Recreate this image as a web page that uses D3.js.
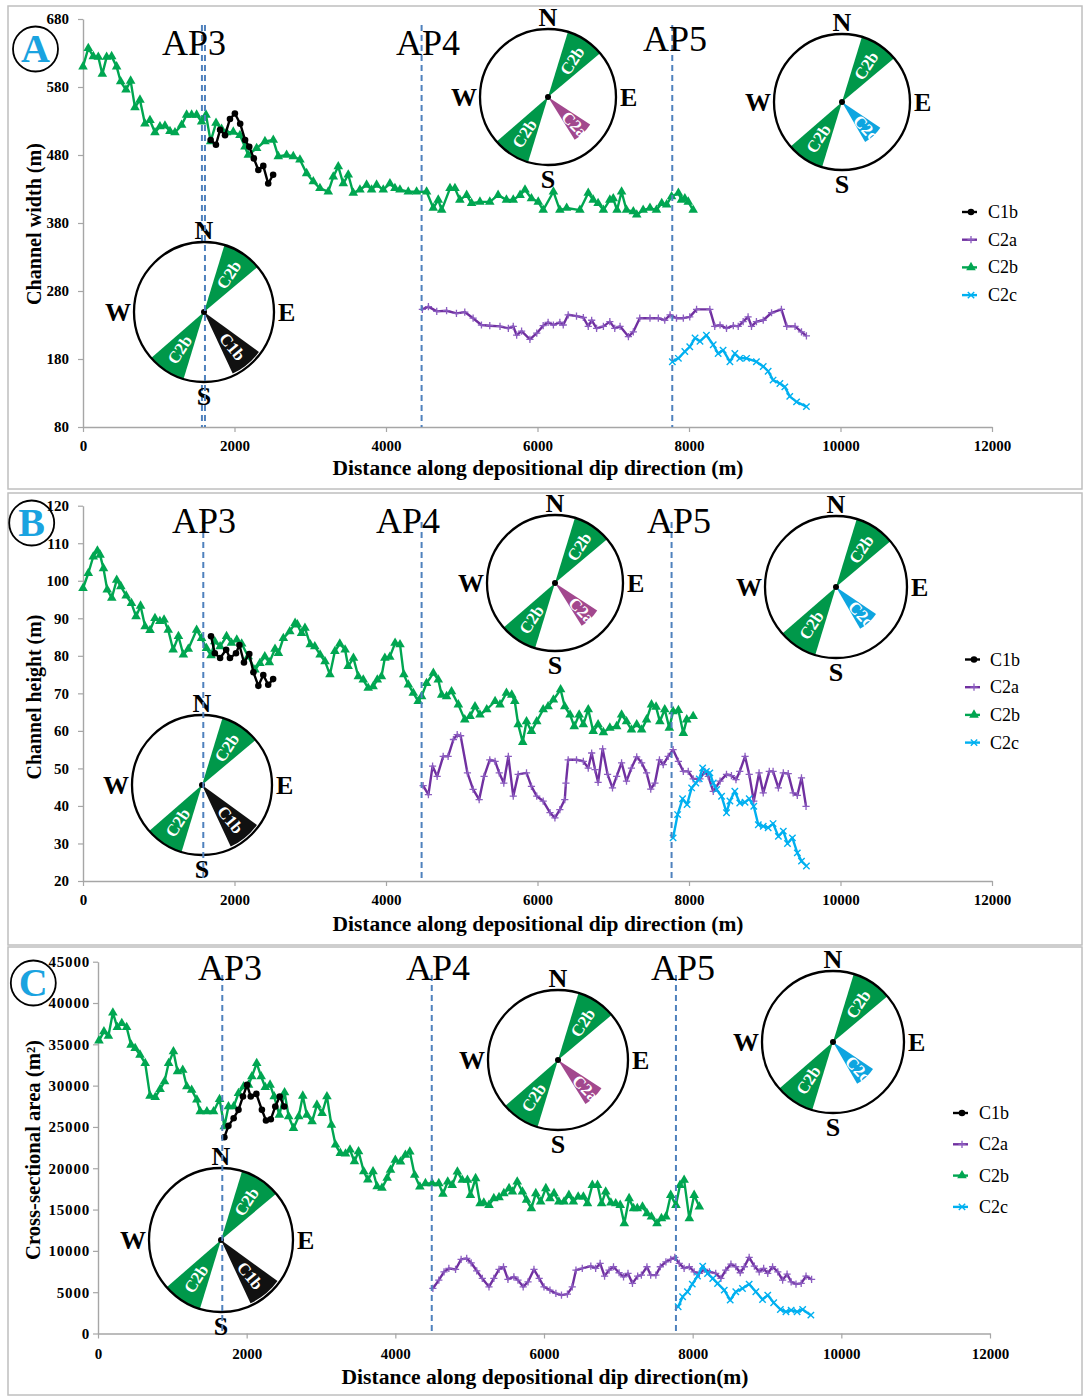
<!DOCTYPE html>
<html>
<head>
<meta charset="utf-8">
<script src="https://cdn.jsdelivr.net/npm/d3@7"></script>
<style>
  body { margin: 0; background: #fff; }
  svg { display: block; }
</style>
</head>
<body>
<div id="chart"></div>
<script>
// ---- data ----
const xTicks = [0, 2000, 4000, 6000, 8000, 10000, 12000];
const widthTicks = [80, 180, 280, 380, 480, 580, 680];
const heightTicks = [20, 30, 40, 50, 60, 70, 80, 90, 100, 110, 120];
const areaTicks = [0, 5000, 10000, 15000, 20000, 25000, 30000, 35000, 40000, 45000];

const seriesNames = ["C1b", "C2a", "C2b", "C2c"];
const apNames = ["AP3", "AP4", "AP5"];

// A: channel width (m)
const widthC1b = [[1685,502],[1755,495],[1810,517],[1875,509],[1940,533],[2005,541],[2075,526],[2140,502],[2195,492],[2255,475],[2315,458],[2380,464],[2445,438],[2510,451]];
const widthC2a = [[4480,253],[4560,257],[4670,250],[4800,251],[4930,247],[5040,249],[5150,240],[5260,230],[5370,229],[5505,228],[5615,225],[5680,228],[5725,215],[5790,221],[5900,209],[5990,218],[6075,229],[6140,234],[6210,230],[6295,234],[6340,230],[6405,245],[6515,243],[6605,241],[6670,228],[6715,237],[6780,225],[6870,228],[6955,235],[7020,225],[7090,228],[7200,213],[7265,220],[7350,240],[7485,240],[7595,240],[7680,237],[7750,245],[7835,240],[7925,240],[8010,242],[8100,253],[8275,253],[8340,228],[8410,230],[8495,225],[8585,229],[8650,228],[8715,235],[8780,242],[8825,228],[8890,235],[8980,237],[9090,248],[9220,253],[9290,228],[9400,228],[9485,220],[9550,214]];
const widthC2b = [[0,610],[70,637],[136,625],[202,624],[255,599],[312,624],[378,625],[444,610],[497,588],[568,576],[629,589],[686,550],[752,561],[818,526],[884,531],[950,513],[1016,522],[1082,523],[1148,515],[1214,513],[1302,524],[1368,539],[1434,539],[1500,539],[1566,529],[1624,539],[1685,500],[1756,527],[1830,518],[1896,513],[1984,514],[2072,509],[2138,492],[2182,480],[2292,490],[2402,500],[2512,502],[2578,478],[2688,480],[2776,478],[2864,473],[2952,453],[3040,441],[3128,431],[3238,426],[3304,448],[3370,463],[3436,438],[3502,451],[3568,424],[3656,429],[3744,436],[3810,429],[3876,436],[3964,429],[4052,438],[4118,431],[4184,429],[4294,426],[4404,426],[4536,426],[4624,402],[4690,414],[4735,399],[4845,431],[4910,431],[4975,414],[5065,421],[5130,409],[5240,411],[5370,411],[5480,421],[5590,414],[5680,414],[5770,421],[5835,429],[5920,416],[6010,411],[6075,399],[6210,426],[6295,399],[6385,402],[6560,399],[6670,424],[6735,414],[6800,409],[6870,399],[6955,414],[7000,416],[7050,399],[7110,426],[7175,399],[7265,397],[7310,392],[7395,399],[7485,402],[7570,399],[7640,409],[7705,407],[7770,419],[7860,424],[7900,414],[7945,416],[7990,411],[8055,399]];
const widthC2c = [[7780,176],[7860,181],[7945,191],[8010,198],[8080,211],[8145,206],[8230,215],[8320,201],[8385,188],[8450,193],[8540,176],[8605,188],[8670,181],[8760,181],[8890,176],[8980,169],[9045,162],[9110,149],[9200,144],[9265,139],[9330,125],[9420,117],[9550,110]];

// B: channel height (m)
const heightC1b = [[1690,85.2],[1740,80.7],[1810,79.4],[1890,81.6],[1940,79.4],[2020,80.7],[2065,82.9],[2125,78.2],[2195,80.5],[2250,75.6],[2315,72],[2380,74.9],[2445,72.3],[2510,73.8]];
const heightC2a = [[4490,45.4],[4560,43],[4615,50.6],[4675,47.9],[4755,53.2],[4820,53.2],[4890,57.7],[4940,59],[4985,58.7],[5075,48.8],[5150,44.4],[5230,41.7],[5295,47.9],[5370,52.3],[5440,51.9],[5495,48.8],[5555,46.1],[5615,53.2],[5680,42.6],[5745,48.4],[5855,48.8],[5920,45.2],[5990,42.6],[6075,41.3],[6165,38.2],[6230,36.8],[6295,39],[6360,41.7],[6375,46.1],[6405,52.3],[6515,52.3],[6605,51.9],[6670,50.1],[6715,54.1],[6760,49.7],[6800,46.3],[6860,55.2],[6925,48.4],[6990,44.8],[7045,47.9],[7110,51.5],[7175,46.6],[7240,50.1],[7310,53.1],[7375,51.5],[7440,48.8],[7495,44.5],[7550,46.1],[7610,52.3],[7660,51],[7725,53.2],[7790,55],[7860,51.9],[7925,49.2],[7990,49.2],[8055,47.2],[8145,47.2],[8210,49.2],[8255,47.9],[8320,43.9],[8410,46.6],[8495,48.4],[8560,48.1],[8620,47],[8670,49.2],[8740,53.2],[8795,48.4],[8855,41.3],[8925,48.8],[8980,43.5],[9060,49.2],[9110,49.2],[9180,44.8],[9245,48.8],[9310,48.6],[9375,43.5],[9430,42.8],[9485,47.5],[9545,39.9]];
const heightC2b = [[0,98],[70,102],[135,106.4],[190,108],[225,106.9],[270,103.3],[320,97.6],[380,95.4],[445,100.2],[500,98.5],[570,96],[640,94],[700,90.5],[760,93.3],[820,87.8],[885,86.8],[950,90],[1015,89.2],[1070,89.6],[1125,86.9],[1190,81.6],[1260,85.2],[1325,80.3],[1390,81.8],[1500,86.9],[1565,84.7],[1630,82],[1690,80.1],[1740,83.8],[1810,82.5],[1895,85.2],[1960,83.4],[2030,84.3],[2095,83.2],[2180,79.8],[2270,76.3],[2335,78],[2400,79.8],[2460,78.2],[2535,81.8],[2580,80.7],[2645,84.7],[2730,86.5],[2800,88.7],[2830,88.3],[2885,86],[2930,87.4],[3000,83],[3060,82.5],[3130,80.3],[3195,78.5],[3260,75],[3325,81.2],[3390,83.2],[3460,81.6],[3500,77.2],[3570,79.4],[3635,74.5],[3700,73.6],[3765,71.4],[3830,71.8],[3885,73.6],[3940,74.5],[3985,79.4],[4050,79.7],[4120,83.4],[4185,83],[4235,75],[4295,72.3],[4360,70.1],[4425,67.9],[4470,69.2],[4535,72.7],[4625,75.4],[4690,73.6],[4735,69.6],[4800,69.2],[4865,70.5],[4955,67],[5040,63],[5110,63.9],[5175,66.5],[5240,64.3],[5330,65.7],[5440,67.9],[5505,67],[5590,70.1],[5660,69.6],[5700,67.9],[5745,61.7],[5805,57],[5855,62.5],[5920,59.9],[5990,62.5],[6075,65.7],[6140,66.5],[6210,68.3],[6305,71],[6360,66.5],[6430,64.3],[6485,61.2],[6550,64.3],[6605,61.7],[6670,65.7],[6735,59.9],[6800,61.7],[6870,59.6],[6955,60.8],[7045,61.2],[7110,64.3],[7175,62.5],[7240,60.3],[7310,61.7],[7375,60.3],[7440,63],[7505,67],[7565,66.4],[7615,62.5],[7680,65.7],[7740,60.8],[7790,65.2],[7860,65.5],[7925,59.4],[7970,63],[8055,63.9]];
const heightC2c = [[7790,31.5],[7850,37.7],[7915,41.9],[7975,40.4],[8035,44.8],[8090,46.1],[8135,47.2],[8180,50.1],[8230,49.2],[8275,48.8],[8320,46.1],[8365,44.4],[8430,42.6],[8495,38.2],[8540,41.3],[8605,43.9],[8670,40.8],[8740,41],[8795,41.9],[8855,39.9],[8915,35],[8980,34.6],[9045,34.2],[9110,35.3],[9180,31.9],[9245,33.3],[9300,30],[9365,31.5],[9430,27.5],[9485,25.3],[9550,24]];

// C: cross-sectional area (m2)
const areaC1b = [[1700,23760],[1755,25130],[1825,26060],[1890,27070],[1950,28680],[2005,30090],[2055,28680],[2130,29000],[2205,27070],[2260,25780],[2325,25940],[2385,27470],[2445,28680],[2505,27470]];
const areaC2a = [[4505,5450],[4585,6460],[4655,7470],[4720,7880],[4810,7750],[4885,8965],[4960,9085],[5020,8560],[5095,7590],[5170,6665],[5260,5650],[5325,6665],[5395,7750],[5455,8080],[5515,6540],[5595,6865],[5650,6460],[5720,5650],[5785,6260],[5865,7750],[5935,6665],[6000,5650],[6080,5250],[6160,4850],[6235,4645],[6315,4770],[6380,5650],[6430,7670],[6515,7880],[6630,8160],[6695,7880],[6755,8480],[6815,6950],[6875,7670],[6935,8080],[7010,7350],[7070,6865],[7130,7270],[7190,6060],[7260,6950],[7310,7070],[7385,8080],[7435,7070],[7505,7070],[7565,8080],[7640,8680],[7705,8965],[7760,9210],[7820,8480],[7885,7880],[7955,8080],[8020,7470],[8090,7270],[8155,7750],[8225,7470],[8310,7270],[8380,6665],[8445,7670],[8515,8400],[8580,8080],[8640,7350],[8695,8080],[8760,9210],[8830,8160],[8895,7470],[8955,7880],[9010,7270],[9075,8080],[9145,7470],[9210,6460],[9270,7190],[9325,6260],[9390,5980],[9460,6060],[9525,6950],[9600,6540]];
const areaC2b = [[13,35450],[80,36540],[140,36010],[200,38830],[260,37060],[320,37540],[385,37060],[445,34930],[500,34520],[565,33720],[635,32710],[700,28760],[770,28600],[835,29560],[895,30490],[950,32710],[1015,34120],[1070,31700],[1140,31900],[1195,29890],[1260,29480],[1330,28280],[1375,26870],[1465,26870],[1555,26870],[1635,28360],[1700,25050],[1755,27470],[1825,27470],[1890,29080],[1960,29890],[2025,30090],[2070,31100],[2135,32710],[2195,31100],[2250,29810],[2315,30090],[2370,28680],[2440,26460],[2510,29160],[2565,26260],[2630,24850],[2700,26260],[2755,28760],[2810,26460],[2880,25650],[2945,27670],[3015,26660],[3080,28680],[3140,25250],[3195,22840],[3260,21830],[3330,21750],[3390,22230],[3450,20820],[3505,22030],[3575,19610],[3630,18610],[3700,19610],[3755,17800],[3820,17600],[3890,18810],[3935,19780],[4000,20990],[4070,20790],[4135,21600],[4195,22000],[4260,19180],[4330,17760],[4405,18170],[4495,18170],[4585,18170],[4640,16880],[4705,18370],[4765,17960],[4835,19580],[4900,18570],[4970,18570],[5010,16750],[5080,18770],[5140,15740],[5190,15825],[5260,15540],[5325,16350],[5395,16470],[5460,16960],[5530,17560],[5575,17160],[5640,18370],[5710,17160],[5765,16150],[5830,15140],[5890,16960],[5955,15950],[6025,17560],[6080,16350],[6135,16960],[6200,15950],[6270,15950],[6335,16750],[6395,15950],[6460,16550],[6530,16550],[6585,15740],[6650,17960],[6720,17960],[6775,15740],[6830,17160],[6900,15825],[6965,15740],[7025,15540],[7080,13320],[7145,16350],[7205,15140],[7255,15140],[7325,15340],[7385,14540],[7445,14130],[7520,13320],[7580,13930],[7640,14130],[7705,16750],[7775,15540],[7830,17960],[7885,18570],[7955,13930],[8020,16750],[8090,15340]];
const areaC2c = [[7805,3235],[7865,4445],[7930,5050],[7995,5980],[8065,6950],[8135,8160],[8200,7270],[8270,6665],[8335,6060],[8425,5250],[8505,4040],[8580,5050],[8670,5450],[8760,5980],[8850,5050],[8940,4120],[9010,4650],[9090,3720],[9180,2910],[9255,2630],[9325,2830],[9405,2630],[9480,2910],[9590,2220]];

// AP positions along dip (m)
const apWidth = [1610, 4470, 7779];
const apWidthBehind = [1570];
const apHeight = [1588, 4470, 7770];
const apArea = [1672, 4490, 7775];

// rose wedges: bearings (deg) and relative length
const roseAP3 = [
  { name: "C2b", from: 17, to: 50, len: 1 },
  { name: "C2b", from: 197, to: 229, len: 1 },
  { name: "C1b", from: 126, to: 155, len: 0.97 }
];
const roseAP4 = [
  { name: "C2b", from: 17, to: 50, len: 1 },
  { name: "C2b", from: 197, to: 229, len: 1 },
  { name: "C2a", from: 123, to: 148, len: 0.74 }
];
const roseAP5 = [
  { name: "C2b", from: 17, to: 50, len: 1 },
  { name: "C2b", from: 197, to: 229, len: 1 },
  { name: "C2c", from: 124, to: 150, len: 0.68 }
];

// ---- styles ----
const serif = '"Liberation Serif", "Times New Roman", serif';
const lineColor = { C1b: "#000000", C2a: "#7030A0", C2b: "#00A651", C2c: "#00B0F0" };
const wedgeColor = { C1b: "#111111", C2a: "#A2488E", C2b: "#00984A", C2c: "#0EA5E0" };
const drawOrder = ["C2b", "C2a", "C2c", "C1b"];

const panels = [
  {
    letter: "A", frame: [8, 6, 1074, 483], badge: [35.5, 49],
    left: 83, right: 992, top: 19, bottom: 427, yDomain: [80, 680], yTicks: widthTicks,
    yTitle: "Channel width (m)", yTitleX: 41, yTitleY: 224, yTitleLen: 162,
    xTitle: "Distance along depositional dip direction (m)", xTitleX: 538, xTitleY: 475, xTitleLen: 411,
    xTickY: 451, ap: apWidth, apBehind: apWidthBehind,
    apLabelX: [194, 428, 675], apLabelY: [55, 55, 51], dashTop: 25,
    series: { C1b: widthC1b, C2a: widthC2a, C2b: widthC2b, C2c: widthC2c },
    roses: [[204, 312, 70, roseAP3], [548, 97, 68, roseAP4], [842, 102, 68, roseAP5]],
    legend: [962, 212, 27.7, 988], yLabelGap: 9, yLabelSpacing: 0
  },
  {
    letter: "B", frame: [8, 493, 1074, 452], badge: [31.7, 523],
    left: 83, right: 992, top: 505.7, bottom: 881, yDomain: [20, 120], yTicks: heightTicks,
    yTitle: "Channel height (m)", yTitleX: 41, yTitleY: 697, yTitleLen: 165,
    xTitle: "Distance along depositional dip direction (m)", xTitleX: 538, xTitleY: 931, xTitleLen: 411,
    xTickY: 905, ap: apHeight, apBehind: [],
    apLabelX: [204, 408, 679], apLabelY: [533, 533, 533], dashTop: 522,
    series: { C1b: heightC1b, C2a: heightC2a, C2b: heightC2b, C2c: heightC2c },
    roses: [[202, 785, 70, roseAP3], [555, 583, 68, roseAP4], [836, 587, 71, roseAP5]],
    legend: [965, 659.5, 27.7, 990], yLabelGap: 9, yLabelSpacing: 0
  },
  {
    letter: "C", frame: [8, 947, 1074, 448], badge: [33.3, 983],
    left: 98, right: 990, top: 961.7, bottom: 1333.5, yDomain: [0, 45000], yTicks: areaTicks,
    yTitle: "Cross-sectional area (m²)", yTitleX: 40, yTitleY: 1150, yTitleLen: 220,
    xTitle: "Distance along depositional dip direction(m)", xTitleX: 545, xTitleY: 1384, xTitleLen: 407,
    xTickY: 1359, ap: apArea, apBehind: [],
    apLabelX: [230, 438, 683], apLabelY: [980, 980, 980], dashTop: 975,
    series: { C1b: areaC1b, C2a: areaC2a, C2b: areaC2b, C2c: areaC2c },
    roses: [[221, 1240, 72, roseAP3], [558, 1060, 70, roseAP4], [833, 1042, 71, roseAP5]],
    legend: [953, 1113, 31.3, 979], yLabelGap: 3, yLabelSpacing: 0.8
  }
];

const svg = d3.select("#chart").append("svg")
  .attr("width", 1083)
  .attr("height", 1396)
  .style("background", "#fff");

// marker glyphs
function drawMarker(sel, name) {
  const c = lineColor[name];
  if (name === "C1b") {
    sel.append("path").attr("d", d3.symbol(d3.symbolCircle, 34)()).attr("fill", c);
  } else if (name === "C2b") {
    sel.append("path").attr("d", d3.symbol(d3.symbolTriangle, 40)()).attr("fill", c);
  } else if (name === "C2a") {
    sel.append("path").attr("d", "M-3.6,0H3.6M0,-3.6V3.6").attr("stroke", "#8B5CC0").attr("stroke-width", 1.3).attr("fill", "none");
  } else {
    sel.append("path").attr("d", "M-3.2,-3.2L3.2,3.2M-3.2,3.2L3.2,-3.2").attr("stroke", c).attr("stroke-width", 1.4).attr("fill", "none");
  }
}

function drawRose(g, cx, cy, R, wedges) {
  const rg = g.append("g").attr("transform", `translate(${cx},${cy})`);
  rg.append("circle").attr("r", R).attr("fill", "#fff");
  wedges.forEach(w => {
    const arc = d3.arc()
      .innerRadius(0)
      .outerRadius(R * w.len)
      .startAngle(w.from * Math.PI / 180)
      .endAngle(w.to * Math.PI / 180);
    rg.append("path").attr("d", arc()).attr("fill", wedgeColor[w.name]);
    const mid = (w.from + w.to) / 2;
    let rot = mid - 90;
    if (rot > 90) rot -= 180;
    const lr = R * (w.len >= 0.95 ? 0.64 : w.len * 0.76);
    const a = mid * Math.PI / 180;
    rg.append("text")
      .attr("transform", `translate(${lr * Math.sin(a)},${-lr * Math.cos(a)}) rotate(${rot})`)
      .attr("text-anchor", "middle")
      .attr("dy", "0.35em")
      .attr("font-family", serif)
      .attr("font-weight", "bold")
      .attr("font-size", 17)
      .attr("fill", "#fff")
      .text(w.name);
  });
  rg.append("circle").attr("r", R).attr("fill", "none").attr("stroke", "#000").attr("stroke-width", 2.3);
  rg.append("circle").attr("r", 3).attr("fill", "#000");

  const compass = [
    ["N", 0, -R - 3, "middle"],
    ["S", 0, R + 23, "middle"],
    ["W", -R - 3, 9, "end"],
    ["E", R + 4, 9, "start"]
  ];
  rg.selectAll("text.dir")
    .data(compass)
    .join("text")
    .attr("class", "dir")
    .attr("x", d => d[1])
    .attr("y", d => d[2])
    .attr("text-anchor", d => d[3])
    .attr("font-family", serif)
    .attr("font-weight", "bold")
    .attr("font-size", 26)
    .attr("fill", "#000")
    .text(d => d[0]);
}

panels.forEach(p => {
  const g = svg.append("g");

  g.append("rect")
    .attr("x", p.frame[0]).attr("y", p.frame[1])
    .attr("width", p.frame[2]).attr("height", p.frame[3])
    .attr("fill", "none").attr("stroke", "#BFBFBF").attr("stroke-width", 1.5);

  const x = d3.scaleLinear().domain([0, 12000]).range([p.left, p.right]);
  const y = d3.scaleLinear().domain(p.yDomain).range([p.bottom, p.top]);

  // axes
  const yAxis = g.append("g")
    .attr("transform", `translate(${p.left},0)`)
    .call(d3.axisLeft(y).tickValues(p.yTicks).tickSize(5).tickSizeOuter(0).tickPadding(p.yLabelGap).tickFormat(d3.format("d")));
  const xAxis = g.append("g")
    .attr("transform", `translate(0,${p.bottom})`)
    .call(d3.axisBottom(x).tickValues(xTicks).tickSize(5).tickSizeOuter(0).tickFormat(d3.format("d")));
  [yAxis, xAxis].forEach(ax => {
    ax.select(".domain").attr("stroke", "#A6A6A6").attr("stroke-width", 1.4);
    ax.selectAll(".tick line").attr("stroke", "#A6A6A6").attr("stroke-width", 1.2);
    ax.selectAll(".tick text")
      .attr("font-family", serif)
      .attr("font-weight", "bold")
      .attr("font-size", 15)
      .attr("fill", "#000");
  });
  yAxis.selectAll(".tick text").attr("letter-spacing", p.yLabelSpacing);
  xAxis.selectAll(".tick text").attr("y", null).attr("dy", null)
    .attr("transform", `translate(0,${p.xTickY - p.bottom})`);

  // axis titles
  g.append("text")
    .attr("transform", `translate(${p.yTitleX},${p.yTitleY}) rotate(-90)`)
    .attr("text-anchor", "middle")
    .attr("font-family", serif)
    .attr("font-weight", "bold")
    .attr("font-size", 20)
    .attr("textLength", p.yTitleLen)
    .attr("lengthAdjust", "spacingAndGlyphs")
    .text(p.yTitle);
  g.append("text")
    .attr("x", p.xTitleX)
    .attr("y", p.xTitleY)
    .attr("text-anchor", "middle")
    .attr("font-family", serif)
    .attr("font-weight", "bold")
    .attr("font-size", 20)
    .attr("textLength", p.xTitleLen)
    .attr("lengthAdjust", "spacingAndGlyphs")
    .text(p.xTitle);

  // dashed lines that sit behind the roses
  const dash = (sel) => sel
    .attr("y1", p.dashTop).attr("y2", p.bottom)
    .attr("stroke", "#4F81BD").attr("stroke-width", 2)
    .attr("stroke-dasharray", "6,4");
  p.apBehind.forEach(v => g.append("line").attr("x1", x(v)).attr("x2", x(v)).call(dash));

  // series
  const line = d3.line().x(d => x(d[0])).y(d => y(d[1]));
  drawOrder.forEach(name => {
    const data = p.series[name];
    g.append("path")
      .datum(data)
      .attr("d", line)
      .attr("fill", "none")
      .attr("stroke", lineColor[name])
      .attr("stroke-width", 2.4)
      .attr("stroke-linejoin", "round");
    g.append("g")
      .selectAll("g")
      .data(data)
      .join("g")
      .attr("transform", d => `translate(${x(d[0])},${y(d[1])})`)
      .each(function () { drawMarker(d3.select(this), name); });
  });

  // rose diagrams
  p.roses.forEach(r => drawRose(g, r[0], r[1], r[2], r[3]));

  // AP dashed lines + labels
  p.ap.forEach((v, i) => {
    g.append("line").attr("x1", x(v)).attr("x2", x(v)).call(dash);
    g.append("text")
      .attr("x", p.apLabelX[i])
      .attr("y", p.apLabelY[i])
      .attr("text-anchor", "middle")
      .attr("font-family", serif)
      .attr("font-size", 36)
      .attr("fill", "#000")
      .text(apNames[i]);
  });

  // legend
  const [lx, ly, step, tx] = p.legend;
  seriesNames.forEach((name, i) => {
    const yy = ly + i * step;
    g.append("line")
      .attr("x1", lx).attr("x2", lx + 15)
      .attr("y1", yy).attr("y2", yy)
      .attr("stroke", lineColor[name]).attr("stroke-width", 2.4);
    drawMarker(g.append("g").attr("transform", `translate(${lx + 9},${yy})`), name);
    g.append("text")
      .attr("x", tx).attr("y", yy + 6)
      .attr("font-family", serif)
      .attr("font-size", 18)
      .attr("fill", "#000")
      .text(name);
  });

  // panel badge
  const b = g.append("g").attr("transform", `translate(${p.badge[0]},${p.badge[1]})`);
  b.append("circle").attr("r", 22.5).attr("fill", "none").attr("stroke", "#000").attr("stroke-width", 1.8);
  b.append("text")
    .attr("text-anchor", "middle")
    .attr("y", 13)
    .attr("font-family", serif)
    .attr("font-weight", "bold")
    .attr("font-size", 40)
    .attr("fill", "#1AA3E0")
    .text(p.letter);
});
</script>
</body>
</html>
